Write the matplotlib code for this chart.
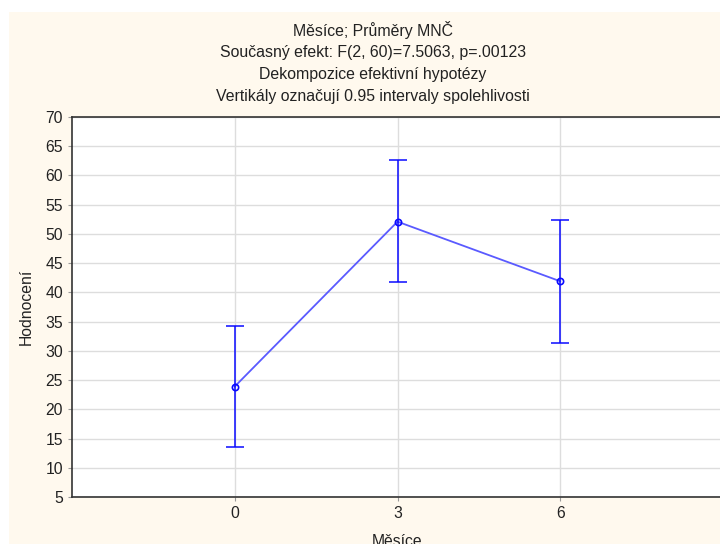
import matplotlib
matplotlib.use("Agg")
import matplotlib.pyplot as plt
from matplotlib.patches import Rectangle

months = [0, 3, 6]
means = [23.9, 52.1, 41.9]
ci_low = [13.5, 41.7, 31.4]
ci_high = [34.3, 62.7, 52.4]
xticks = [0, 3, 6]
yticks = list(range(5, 75, 5))
title_lines = [
    "Měsíce; Průměry MNČ",
    "Současný efekt: F(2, 60)=7.5063, p=.00123",
    "Dekompozice efektivní hypotézy",
    "Vertikály označují 0.95 intervaly spolehlivosti",
]

plt.rcParams['font.family'] = ['Liberation Sans', 'DejaVu Sans']

W, H = 720, 544
fig = plt.figure(figsize=(W / 100, H / 100), dpi=100)
fig.patch.set_facecolor('white')
fig.patches.append(Rectangle((9 / W, 0), 1, 1 - 12 / H, transform=fig.transFigure,
                             facecolor='#FFF9EE', edgecolor='none', zorder=-10))

ax = fig.add_axes([72 / W, (H - 497) / H, (723 - 72) / W, (497 - 117) / H])
ax.set_facecolor('white')

lower = [m - l for m, l in zip(means, ci_low)]
upper = [h - m for m, h in zip(means, ci_high)]
ax.plot(months, means, color='#5A5AFF', lw=1.3, zorder=3)
ax.errorbar(months, means, yerr=[lower, upper], fmt='none', ecolor='#0A0AFF',
            elinewidth=1.1, capsize=6.3, capthick=1.1, zorder=4)
ax.plot(months, means, 'o', mfc='none', mec='#0A0AFF', ms=4.5, mew=1.2, zorder=5)

ax.set_xlim(-3, 9)
ax.set_ylim(5, 70)
ax.set_xticks(xticks)
ax.set_yticks(yticks)
ax.grid(True, color='#DDDDDD', lw=1)
ax.set_axisbelow(True)
ax.tick_params(axis='both', labelsize=11.3, colors='#222222', length=3, color='#999999')
for s in ax.spines.values():
    s.set_color('#333333')
    s.set_linewidth(1.2)

ax.set_ylabel("Hodnocení", fontsize=11.3, color='#222222', labelpad=8)
ax.set_xlabel("Měsíce", fontsize=11.3, color='#222222', labelpad=9)

for i, t in enumerate(title_lines):
    fig.text(373 / W, 1 - (30 + 22 * i) / H, t, ha='center', va='center',
             fontsize=11.4, color='#222222')

fig.savefig("out.png", dpi=100, facecolor=fig.get_facecolor())
